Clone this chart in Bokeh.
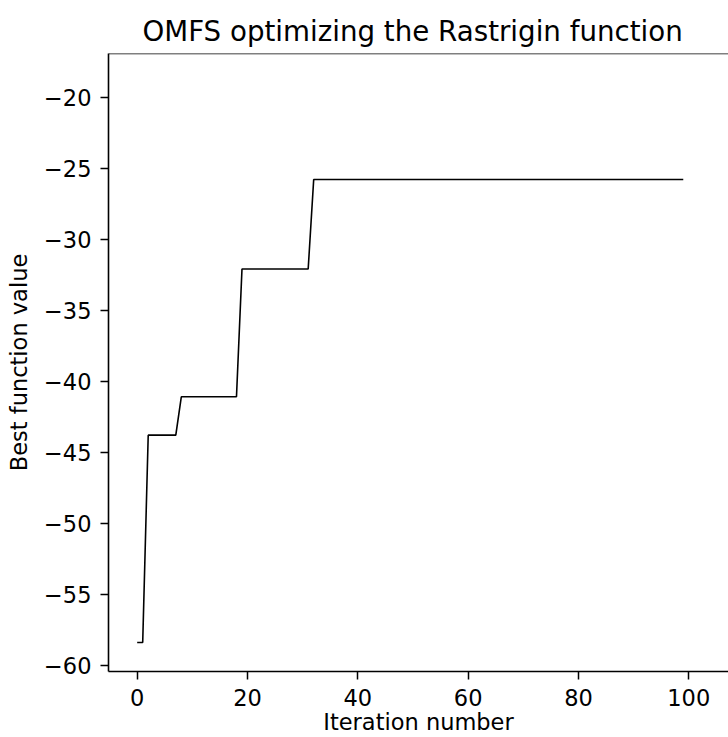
from bokeh.plotting import figure
from bokeh.models import Range1d, Span
from bokeh.embed import file_html
from bokeh.resources import INLINE

# Data: best function value per iteration
iterations = list(range(100))
best_values = ([-58.4] * 2 + [-43.8] * 6 + [-41.1] * 11 + [-32.1] * 13 + [-25.8] * 68)

x_ticks = [0, 20, 40, 60, 80, 100]
y_ticks = [-60, -55, -50, -45, -40, -35, -30, -25, -20]
x_tick_labels = ["0", "20", "40", "60", "80", "100"]
y_tick_labels = ["\u221260", "\u221255", "\u221250", "\u221245", "\u221240",
                 "\u221235", "\u221230", "\u221225", "\u221220"]

FONT = "DejaVu Sans"
Y_TOP = -16.93

p = figure(width=728, height=737, output_backend="svg", toolbar_location=None,
           x_range=Range1d(-5.2, 107.2), y_range=Range1d(-60.44, Y_TOP),
           min_border_left=108, min_border_right=0, min_border_top=53,
           min_border_bottom=65)

p.title.text = "OMFS optimizing the Rastrigin function"
p.title.text_font = FONT
p.title.text_font_size = "27.7px"
p.title.text_font_style = "normal"
p.title.align = "left"
p.title.offset = 34
p.title.standoff = 11
p.title.text_color = "#000000"

p.line(iterations, best_values, line_color="black", line_width=1.6)

p.outline_line_color = None
p.xgrid.visible = False
p.ygrid.visible = False
p.add_layout(Span(location=Y_TOP, dimension="width", line_color="black", line_width=1.5))

for ax, ticks, labels in ((p.xaxis[0], x_ticks, x_tick_labels), (p.yaxis[0], y_ticks, y_tick_labels)):
    ax.ticker = ticks
    ax.major_label_overrides = {t: l for t, l in zip(ticks, labels)}
    ax.minor_tick_line_color = None
    ax.major_tick_in = 0
    ax.major_tick_out = 8
    ax.major_tick_line_width = 1.5
    ax.axis_line_width = 1.6
    ax.axis_line_color = "black"
    ax.major_tick_line_color = "black"
    ax.major_label_text_font = FONT
    ax.major_label_text_font_size = "22.5px"
    ax.major_label_text_color = "black"
    ax.axis_label_text_font = FONT
    ax.axis_label_text_font_size = "22.5px"
    ax.axis_label_text_font_style = "normal"
    ax.axis_label_text_color = "black"

p.xaxis.axis_label = "Iteration number"
p.yaxis.axis_label = "Best function value"
p.xaxis.major_label_standoff = 9
p.xaxis.axis_label_standoff = 0
p.yaxis.major_label_standoff = 9
p.yaxis.axis_label_standoff = 9

open("out.html", "w").write(file_html(p, INLINE))
